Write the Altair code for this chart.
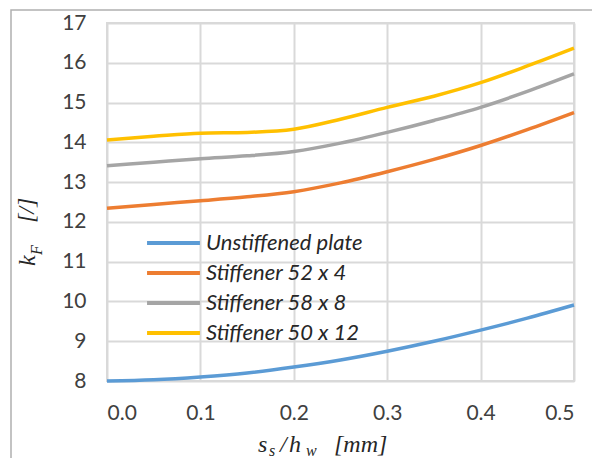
import altair as alt
import pandas as pd

x_vals = [0.0, 0.05, 0.1, 0.15, 0.2, 0.25, 0.3, 0.35, 0.4, 0.45, 0.5]
series_names = ["Unstiffened plate", "Stiffener 52 x 4", "Stiffener 58 x 8", "Stiffener 50 x 12"]
unstiffened = [8.00, 8.03, 8.10, 8.20, 8.35, 8.53, 8.75, 9.00, 9.28, 9.58, 9.91]
stiff_52x4 = [12.34, 12.44, 12.53, 12.63, 12.76, 12.98, 13.26, 13.57, 13.92, 14.32, 14.75]
stiff_58x8 = [13.41, 13.50, 13.59, 13.66, 13.77, 13.98, 14.25, 14.55, 14.88, 15.28, 15.72]
stiff_50x12 = [14.06, 14.15, 14.23, 14.25, 14.33, 14.58, 14.88, 15.16, 15.50, 15.92, 16.37]
colors = ["#5b9bd5", "#ed7d31", "#a5a5a5", "#ffc000"]
y_ticks = [8, 9, 10, 11, 12, 13, 14, 15, 16, 17]
x_ticks = [0.0, 0.1, 0.2, 0.3, 0.4, 0.5]

rows = []
for name, vals in zip(series_names, [unstiffened, stiff_52x4, stiff_58x8, stiff_50x12]):
    for xv, yv in zip(x_vals, vals):
        rows.append({"x": xv, "k": yv, "series": name})
df = pd.DataFrame(rows)

W, H = 467, 358

lines = alt.Chart(df).mark_line(strokeWidth=3.5, interpolate="monotone").encode(
    x=alt.X("x:Q", scale=alt.Scale(domain=[0, 0.5], nice=False),
            axis=alt.Axis(values=x_ticks, format=".1f", title=None, labelPadding=21)),
    y=alt.Y("k:Q", scale=alt.Scale(domain=[8, 17], nice=False, zero=False),
            axis=alt.Axis(values=y_ticks, title=None, labelPadding=21)),
    color=alt.Color("series:N", scale=alt.Scale(domain=series_names, range=colors),
                    sort=series_names,
                    legend=alt.Legend(title=None, orient="none", legendX=38, legendY=205,
                                      symbolType="stroke", symbolSize=2800, symbolStrokeWidth=4,
                                      labelFont="Lato", labelFontStyle="italic", labelFontSize=22,
                                      labelColor="#262626", labelOffset=4, rowPadding=0,
                                      clipHeight=30)),
)

serif = "Liberation Serif"
title_parts = pd.DataFrame([
    {"t": "s", "px": 151, "py": 429, "fs": 24},
    {"t": "s", "px": 162, "py": 433, "fs": 16},
    {"t": "/", "px": 173, "py": 429, "fs": 24},
    {"t": "h", "px": 182, "py": 429, "fs": 24},
    {"t": "w", "px": 199, "py": 433, "fs": 16},
    {"t": "[mm]", "px": 227, "py": 429, "fs": 24},
])

def part(t, px, py, fs, angle=0):
    return alt.Chart(pd.DataFrame({"t": [t]})).mark_text(
        font=serif, fontStyle="italic", fontSize=fs, align="left", baseline="alphabetic",
        color="#262626", angle=angle
    ).encode(text="t:N", x=alt.value(px), y=alt.value(py))

xt = [part(r.t, r.px, r.py, r.fs) for r in title_parts.itertuples()]
yt = [
    part("k", -72, 243, 24, 270),
    part("F", -65, 232, 16, 270),
    part("[/]", -73, 200, 24, 270),
]

border = alt.Chart(pd.DataFrame({"a": [0]})).mark_rect(
    fill=None, stroke="#b0b0b0", strokeWidth=1.5
).encode(x=alt.value(-96), x2=alt.value(700), y=alt.value(-13), y2=alt.value(600))

chart = alt.layer(border, lines, *xt, *yt).properties(
    width=W, height=H,
    autosize=alt.AutoSizeParams(type="none"),
    padding={"left": 99, "top": 15, "right": 18, "bottom": 77},
).configure_view(stroke="#d9d9d9", strokeWidth=2).configure_axis(
    grid=True, gridColor="#d9d9d9", gridWidth=2, domain=False, ticks=False,
    labelFont="Lato", labelFontSize=21, labelColor="#404040",
).configure_axisY(labelBaseline="middle")

chart.save("out.html", embed_options={"renderer": "svg", "actions": False})
